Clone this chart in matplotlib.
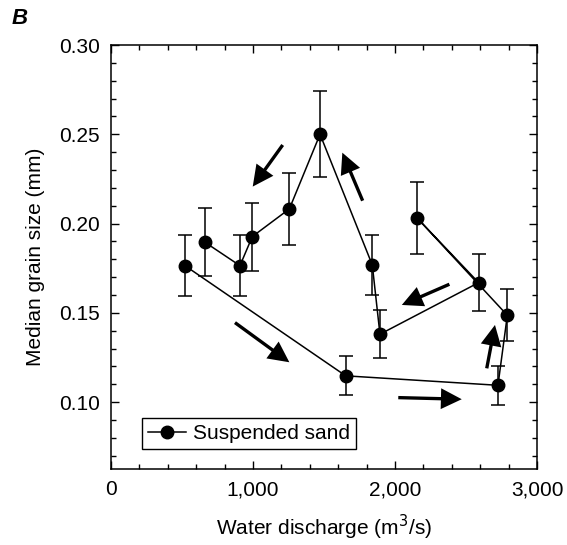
import matplotlib
matplotlib.use('Agg')
import matplotlib.pyplot as plt
from matplotlib.ticker import MultipleLocator, FuncFormatter

plt.rcParams['font.family'] = ['Liberation Sans', 'DejaVu Sans']
plt.rcParams['font.size'] = 15

# discharge (m3/s), median grain size (mm), error (mm) in time order
discharge = [521, 1653, 2725, 2791, 2157, 2589, 1894, 1840, 1472, 1256, 995, 908, 662]
grain_size = [0.1764, 0.1147, 0.1094, 0.1486, 0.203, 0.1669, 0.138, 0.1768,
              0.250, 0.2082, 0.1927, 0.1764, 0.1895]
grain_err = [0.017, 0.011, 0.011, 0.0145, 0.020, 0.016, 0.0135, 0.017,
             0.024, 0.020, 0.019, 0.017, 0.019]

# direction arrows: (tail x, tail y, tip x, tip y)
arrows = [
    (873, 0.1445, 1256, 0.1223),
    (2023, 0.1025, 2470, 0.1016),
    (2646, 0.1189, 2704, 0.1432),
    (2383, 0.1660, 2048, 0.1544),
    (1772, 0.2128, 1629, 0.2397),
    (1209, 0.2440, 998, 0.2207),
]

fig = plt.figure(figsize=(5.67, 5.45), dpi=100)
ax = fig.add_axes([0.1958, 0.1394, 0.7513, 0.778])

ax.errorbar(discharge, grain_size, yerr=grain_err, fmt='none', ecolor='black',
            elinewidth=1.1, capsize=5.3, capthick=1.1, zorder=2)
ax.plot(discharge, grain_size, '-o', color='black', lw=1.1, markersize=9,
        label='Suspended sand', zorder=3)

for x0, y0, x1, y1 in arrows:
    ax.annotate('', xy=(x1, y1), xytext=(x0, y0),
                arrowprops=dict(width=2.4, headwidth=15, headlength=15,
                                shrink=0, color='black', lw=0))

ax.set_xlim(0, 3000)
ax.set_ylim(0.0625, 0.30)
ax.xaxis.set_major_locator(MultipleLocator(1000))
ax.xaxis.set_minor_locator(MultipleLocator(200))
ax.yaxis.set_major_locator(MultipleLocator(0.05))
ax.yaxis.set_minor_locator(MultipleLocator(0.01))
ax.xaxis.set_major_formatter(FuncFormatter(lambda v, p: f'{v:,.0f}'))
ax.yaxis.set_major_formatter(FuncFormatter(lambda v, p: f'{v:.2f}'))
ax.tick_params(which='both', direction='in', top=True, right=True, width=1.0)
ax.tick_params(which='major', length=6, pad=8)
ax.tick_params(which='minor', length=3.5)
for s in ax.spines.values():
    s.set_linewidth(1.1)

ax.set_xlabel('Water discharge (m$^3$/s)', labelpad=10)
ax.set_ylabel('Median grain size (mm)', labelpad=10)

leg = ax.legend(loc='lower left', bbox_to_anchor=(0.073, 0.047), borderaxespad=0,
                fancybox=False, edgecolor='black', framealpha=1,
                handlelength=1.8, handletextpad=0.35, borderpad=0.3)
leg.get_frame().set_linewidth(1.0)

fig.text(0.02, 0.985, 'B', va='top', ha='left', fontsize=16,
         fontweight='bold', fontstyle='italic')

fig.savefig('out.png', dpi=100)
